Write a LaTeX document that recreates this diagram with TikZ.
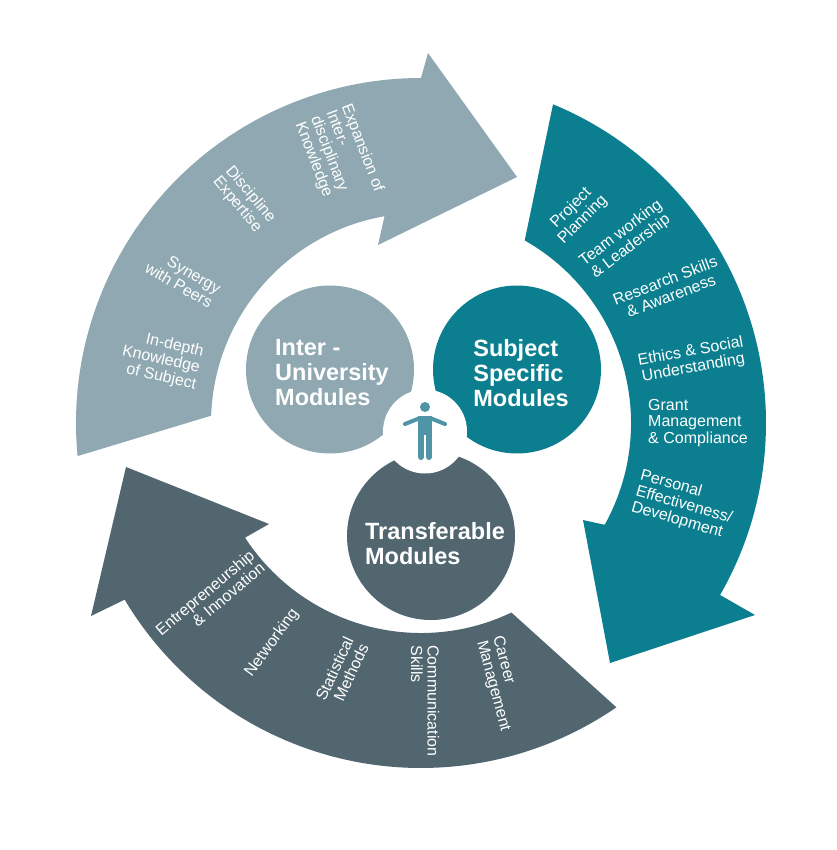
\documentclass[tikz,border=0pt]{standalone}
\usepackage{fontspec}
\setmainfont{Liberation Sans}
\definecolor{uniGrey}{HTML}{8FA8B1}
\definecolor{subjTeal}{HTML}{0B7F8F}
\definecolor{transDark}{HTML}{51666F}
\definecolor{figBlue}{HTML}{4F95A5}
\tikzset{
modcirc/.style={circle,minimum size=168pt,inner sep=0pt},
modtext/.style={text=white,align=left,inner sep=0pt,font=\fontsize{23.5}{25}\selectfont\bfseries},
itemtext/.style={text=white,inner sep=0pt,font=\fontsize{16}{16.5}\selectfont}
}
\begin{document}
\begin{tikzpicture}[x=1pt,y=-1pt]
\useasboundingbox (0,0) rectangle (836,850);
\pgfmathsetmacro{\rout}{345}
\pgfmathsetmacro{\rin}{210}
\coordinate (ctr) at (421,423);
\fill[uniGrey] ([shift={(ctr)}]174.5:\rout) arc[start angle=174.5,end angle=270,radius=\rout] -- (428,53) -- (517,177) -- (378,245) -- ([shift={(ctr)}]260:\rin) arc[start angle=260,end angle=182,radius=\rin] -- cycle;
\fill[subjTeal] ([shift={(ctr)}]292.5:\rout) arc[start angle=292.5,end angle=389.9,radius=\rout] -- (755,615) -- (610,663) -- (583,520) -- ([shift={(ctr)}]389:\rin) arc[start angle=389,end angle=299.6,radius=\rin] -- cycle;
\fill[transDark] ([shift={(ctr)}]55.5:\rout) arc[start angle=55.5,end angle=149.2,radius=\rout] -- (91,616) -- (126,467) -- (269,524) -- ([shift={(ctr)}]146.9:\rin) arc[start angle=146.9,end angle=64.5,radius=\rin] -- cycle;
\node[modcirc,fill=uniGrey] (uniCirc) at (330,369.5) {};
\node[modcirc,fill=subjTeal] (subjCirc) at (517,369.5) {};
\node[modcirc,fill=transDark] (transCirc) at (431,536) {};
\node[circle,fill=white,minimum size=84pt,inner sep=0pt] (figCirc) at (425,431.5) {};
\fill[figBlue] (425,407) circle (5);
\draw[figBlue,line width=4pt,line cap=round] (405,424) -- (420,418) -- (430,418) -- (445,424);
\fill[figBlue] (418,416) -- (432,416) -- (432,435) -- (418,435) -- cycle;
\draw[figBlue,line width=6pt,line cap=round] (421,433) -- (421,457);
\draw[figBlue,line width=6pt,line cap=round] (429,433) -- (429,457);
\node[modtext] (uniText) at (332,373) {Inter -\\University\\Modules};
\node[modtext] (subjText) at (521,373) {Subject\\Specific\\Modules};
\node[modtext] (transText) at (435,544) {Transferable\\Modules};
\node[itemtext,align=left,rotate=-69] (expansion) at (339,157) {Expansion of\\Inter-\\disciplinary\\Knowledge};
\node[itemtext,align=left,rotate=-50] (discipline) at (244,200) {Discipline\\Expertise};
\node[itemtext,align=right,rotate=-30] (synergy) at (183,278) {Synergy\\with Peers};
\node[itemtext,align=right,rotate=-13] (depth) at (161,360) {In-depth\\Knowledge\\of Subject};
\node[itemtext,align=center,rotate=45] (project) at (577,214) {Project\\Planning};
\node[itemtext,align=center,rotate=37] (team) at (626,240) {Team working\\\& Leadership};
\node[itemtext,align=center,rotate=21] (research) at (668,288) {Research Skills\\\& Awareness};
\node[itemtext,align=center,rotate=10] (ethics) at (692,360) {Ethics \& Social\\Understanding};
\node[itemtext,align=left] (grant) at (698,423) {Grant\\Management\\\& Compliance};
\node[itemtext,align=left,rotate=-16] (personal) at (684,505) {Personal\\Effectiveness/\\Development};
\node[itemtext,align=right,rotate=40] (entre) at (210,599) {Entrepreneurship\\\& Innovation};
\node[itemtext,rotate=54] (network) at (272,643) {Networking};
\node[itemtext,align=right,rotate=65] (stats) at (342,672) {Statistical\\Methods};
\node[itemtext,align=left,rotate=-90] (comm) at (425,701) {Communication\\Skills};
\node[itemtext,align=left,rotate=-75] (career) at (501,684) {Career\\Management};
\end{tikzpicture}
\end{document}
